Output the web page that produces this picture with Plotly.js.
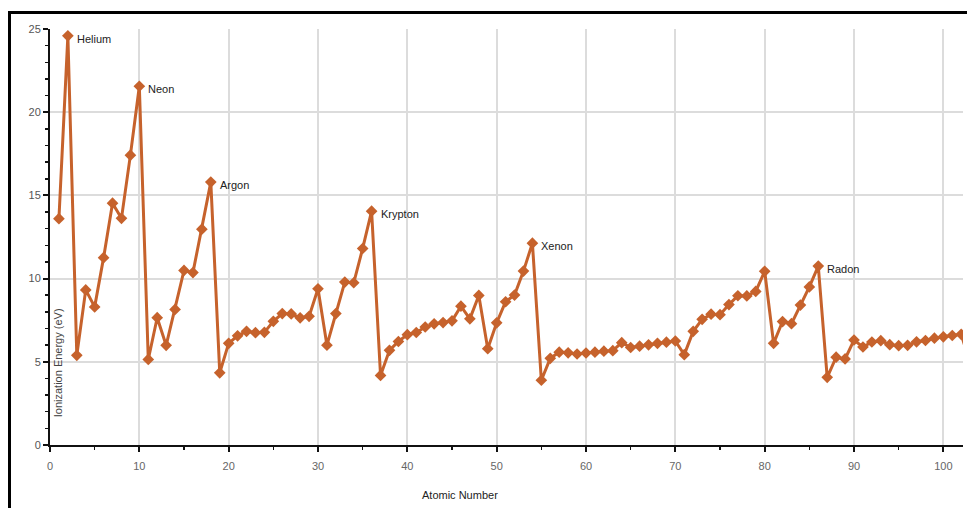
<!DOCTYPE html>
<html>
<head>
<meta charset="utf-8">
<script src="https://cdn.plot.ly/plotly-3.0.1.min.js"></script>
<style>
html,body{margin:0;padding:0;background:#fff;}
#chart{width:967px;height:508px;position:relative;}
#frame{position:absolute;left:8px;top:11px;width:980px;height:520px;border:3px solid #000;pointer-events:none;box-sizing:border-box;}
</style>
</head>
<body>
<div id="chart"></div>
<div id="frame"></div>
<script>
const atomicNumbers = [];
for (let z = 1; z <= 103; z++) atomicNumbers.push(z);
const ionizationEnergy = [
  13.60, 24.59, 5.39, 9.32, 8.30, 11.26, 14.53, 13.62, 17.42, 21.56,
  5.14, 7.65, 5.99, 8.15, 10.49, 10.36, 12.97, 15.80, 4.34, 6.11,
  6.56, 6.83, 6.75, 6.77, 7.43, 7.90, 7.88, 7.64, 7.73, 9.39,
  6.00, 7.90, 9.79, 9.75, 11.81, 14.05, 4.18, 5.69, 6.22, 6.63,
  6.76, 7.09, 7.28, 7.36, 7.46, 8.34, 7.58, 8.99, 5.79, 7.34,
  8.61, 9.01, 10.45, 12.13, 3.89, 5.21, 5.58, 5.54, 5.47, 5.53,
  5.58, 5.64, 5.67, 6.15, 5.86, 5.94, 6.02, 6.11, 6.18, 6.25,
  5.43, 6.83, 7.55, 7.86, 7.83, 8.44, 8.97, 8.96, 9.23, 10.44,
  6.11, 7.42, 7.29, 8.41, 9.50, 10.75, 4.07, 5.28, 5.17, 6.31,
  5.89, 6.19, 6.27, 6.03, 5.97, 5.99, 6.20, 6.28, 6.42, 6.50,
  6.58, 6.65, 4.90
];
const nobleGasNames = ["Helium", "Neon", "Argon", "Krypton", "Xenon", "Radon"];
const nobleGasZ = [2, 10, 18, 36, 54, 86];

const orange = '#c6622c';
const trace = {
  x: atomicNumbers, y: ionizationEnergy,
  type: 'scatter', mode: 'lines+markers',
  line: {color: orange, width: 3},
  marker: {symbol: 'diamond', size: 9, color: orange},
  cliponaxis: true, hoverinfo: 'x+y'
};

const fam = 'Liberation Sans, Arial, sans-serif';
const annotations = nobleGasNames.map((n, i) => ({
  x: nobleGasZ[i], y: ionizationEnergy[nobleGasZ[i] - 1],
  xref: 'x', yref: 'y', text: n, showarrow: false,
  xanchor: 'left', yanchor: 'middle', xshift: 7, yshift: -3,
  font: {size: 11, color: '#222', family: fam}
}));
annotations.push({
  xref: 'paper', yref: 'paper', x: 0.009, y: 0.197,
  text: 'Ionization Energy (eV)', showarrow: false, textangle: -90,
  xanchor: 'center', yanchor: 'middle',
  font: {size: 11, color: '#444', family: fam}
});
annotations.push({
  xref: 'paper', yref: 'paper', x: 0.449, y: -0.12,
  text: 'Atomic Number', showarrow: false,
  xanchor: 'center', yanchor: 'middle',
  font: {size: 11, color: '#222', family: fam}
});

const layout = {
  width: 967, height: 508,
  margin: {l: 50, r: 4, t: 29, b: 63},
  paper_bgcolor: '#fff', plot_bgcolor: '#fff',
  showlegend: false,
  font: {family: fam, size: 11, color: '#444'},
  xaxis: {
    range: [0, 102.2], dtick: 10, tick0: 0,
    showgrid: true, gridcolor: '#dcdcdc', gridwidth: 2,
    zeroline: false, showline: true, linecolor: '#111', linewidth: 2,
    ticks: 'outside', ticklen: 5, tickcolor: '#111', tickwidth: 2,
    minor: {dtick: 5, ticks: 'outside', ticklen: 3, tickcolor: '#111', tickwidth: 1.5, showgrid: false},
    tickfont: {size: 11, color: '#666'}, ticklabelstandoff: 5
  },
  yaxis: {
    range: [0, 25], dtick: 5, tick0: 0,
    showgrid: true, gridcolor: '#dcdcdc', gridwidth: 2,
    zeroline: false, showline: true, linecolor: '#111', linewidth: 2,
    ticks: 'outside', ticklen: 5, tickcolor: '#111', tickwidth: 2,
    minor: {dtick: 1, ticks: 'outside', ticklen: 3, tickcolor: '#111', tickwidth: 1.5, showgrid: false},
    tickfont: {size: 11, color: '#555'}
  },
  annotations: annotations
};

Plotly.newPlot('chart', [trace], layout, {displayModeBar: false, staticPlot: true});
</script>
</body>
</html>
